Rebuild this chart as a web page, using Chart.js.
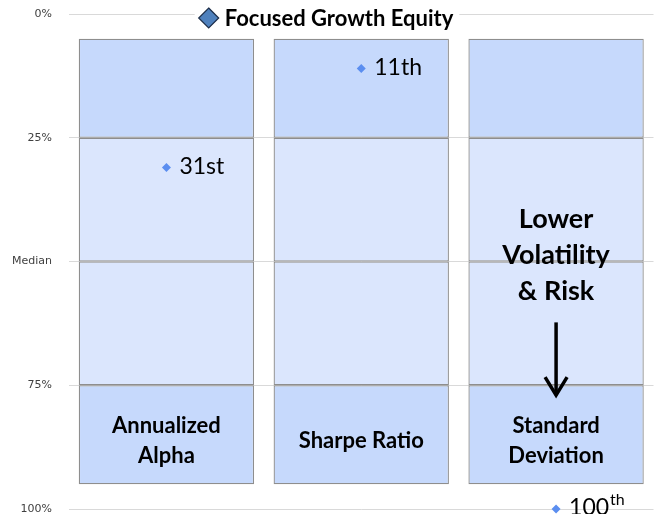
<!DOCTYPE html>
<html>
<head>
<meta charset="utf-8">
<script src="https://cdn.jsdelivr.net/npm/chart.js@4"></script>
<style>
  body { margin: 0; background: #fff; }
  canvas { display: block; }
</style>
</head>
<body>
<canvas id="rank-chart" width="658" height="514"></canvas>
<script>
// categories and their in-box captions
const categories = ['Annualized Alpha', 'Sharpe Ratio', 'Standard Deviation'];
const categoryLines = [['Annualized', 'Alpha'], ['Sharpe Ratio'], ['Standard', 'Deviation']];

// quartile bands of each box (percentile, 0 = top)
const bandRanges = [[5, 25], [25, 50], [50, 75], [75, 95]];
const bandColors = ['#c6d9fc', '#dbe6fd', '#dbe6fd', '#c6d9fc'];

// fund ranks
const seriesName = 'Focused Growth Equity';
const rankValues = [31, 11, 100];
const rankSuffix = ['st', 'th', 'th'];
const suffixRaised = [false, false, true];

// y axis ticks
const tickValues = [0, 25, 50, 75, 100];
const tickLabels = ['0%', '25%', 'Median', '75%', '100%'];

const note = ['Lower', 'Volatility', '& Risk'];

const textFont = 'Lato, "Open Sans", sans-serif';

const bandSets = bandRanges.map((r, i) => ({
    type: 'bar',
    label: 'band' + i,
    data: categories.map(() => r),
    backgroundColor: bandColors[i],
    borderColor: '#8e8e8e',
    borderWidth: 1.3,
    borderSkipped: false,
    grouped: false,
    barPercentage: 0.9,
    categoryPercentage: 1.0,
    order: 2
}));

const labelsPlugin = {
    id: 'labels',
    afterDatasetsDraw(chart) {
        const ctx = chart.ctx;
        const x = chart.scales.x, y = chart.scales.y;
        ctx.save();
        ctx.fillStyle = '#000';

        // captions in the bottom quartile
        ctx.font = 'bold 22px ' + textFont;
        ctx.textAlign = 'center';
        ctx.textBaseline = 'middle';
        categoryLines.forEach((lines, i) => {
            const cx = x.getPixelForValue(i);
            const cy = (y.getPixelForValue(75) + y.getPixelForValue(95)) / 2 + 6;
            lines.forEach((t, j) => {
                ctx.fillText(t, cx, cy + (j - (lines.length - 1) / 2) * 30);
            });
        });

        // rank labels
        rankValues.forEach((v, i) => {
            const px = x.getPixelForValue(i) + 13;
            const py = y.getPixelForValue(v);
            ctx.textAlign = 'left';
            ctx.textBaseline = 'middle';
            ctx.font = '23px ' + textFont;
            const num = suffixRaised[i] ? String(v) : v + rankSuffix[i];
            ctx.fillText(num, px, py - 1);
            if (suffixRaised[i]) {
                const w = ctx.measureText(num).width;
                ctx.font = '16px ' + textFont;
                ctx.fillText(rankSuffix[i], px + w + 1, py - 9);
            }
        });

        // note with arrow over the last column
        const nx = x.getPixelForValue(2);
        ctx.textAlign = 'center';
        ctx.font = 'bold 27px ' + textFont;
        note.forEach((t, j) => {
            ctx.fillText(t, nx, y.getPixelForValue(41.5) + j * 36);
        });
        const a0 = y.getPixelForValue(62.3), a1 = y.getPixelForValue(77);
        ctx.strokeStyle = '#000';
        ctx.lineWidth = 3.5;
        ctx.beginPath();
        ctx.moveTo(nx, a0);
        ctx.lineTo(nx, a1);
        ctx.stroke();
        ctx.beginPath();
        ctx.moveTo(nx - 11, a1 - 18);
        ctx.lineTo(nx, a1);
        ctx.lineTo(nx + 11, a1 - 18);
        ctx.stroke();
        ctx.restore();
    },
    afterDraw(chart) {
        // legend at the top
        const ctx = chart.ctx;
        ctx.save();
        ctx.font = 'bold 22px ' + textFont;
        const tw = ctx.measureText(seriesName).width;
        const total = 22 + 6 + tw;
        const lx = chart.width / 2 - total / 2 - 2;
        const ly = 18;
        ctx.fillStyle = '#fff';
        ctx.fillRect(lx - 4, 4, total + 8, 26);
        ctx.beginPath();
        ctx.moveTo(lx + 10, ly - 10);
        ctx.lineTo(lx + 20, ly);
        ctx.lineTo(lx + 10, ly + 10);
        ctx.lineTo(lx, ly);
        ctx.closePath();
        ctx.fillStyle = '#4f81bd';
        ctx.fill();
        ctx.strokeStyle = '#1c2d48';
        ctx.lineWidth = 1.2;
        ctx.stroke();
        ctx.fillStyle = '#000';
        ctx.textAlign = 'left';
        ctx.textBaseline = 'middle';
        ctx.fillText(seriesName, lx + 26, ly + 1);
        ctx.restore();
    }
};

new Chart(document.getElementById('rank-chart'), {
    data: {
        labels: categories,
        datasets: [
            {
                type: 'line',
                label: seriesName,
                data: rankValues,
                showLine: false,
                pointStyle: 'rectRot',
                pointRadius: 4.5,
                pointHoverRadius: 4.5,
                pointBackgroundColor: '#5b8ef0',
                pointBorderWidth: 0,
                clip: false,
                order: 0
            },
            ...bandSets
        ]
    },
    options: {
        responsive: false,
        animation: false,
        layout: { padding: { top: 0, bottom: 0, left: 0, right: 3 } },
        plugins: {
            legend: { display: false },
            tooltip: { enabled: false }
        },
        scales: {
            x: { display: false },
            y: {
                reverse: true,
                min: 0,
                max: 100,
                afterBuildTicks(scale) {
                    scale.ticks = tickValues.map(v => ({ value: v }));
                },
                afterFit(scale) {
                    scale.width = 69;
                    scale.paddingTop = 14;
                    scale.paddingBottom = 5;
                },
                ticks: {
                    padding: 17,
                    color: '#404040',
                    font: { family: '"DejaVu Sans", sans-serif', size: 11 },
                    callback: v => tickLabels[tickValues.indexOf(v)]
                },
                grid: { color: '#d9d9d9', drawTicks: false },
                border: { display: false }
            }
        }
    },
    plugins: [labelsPlugin]
});
</script>
</body>
</html>
